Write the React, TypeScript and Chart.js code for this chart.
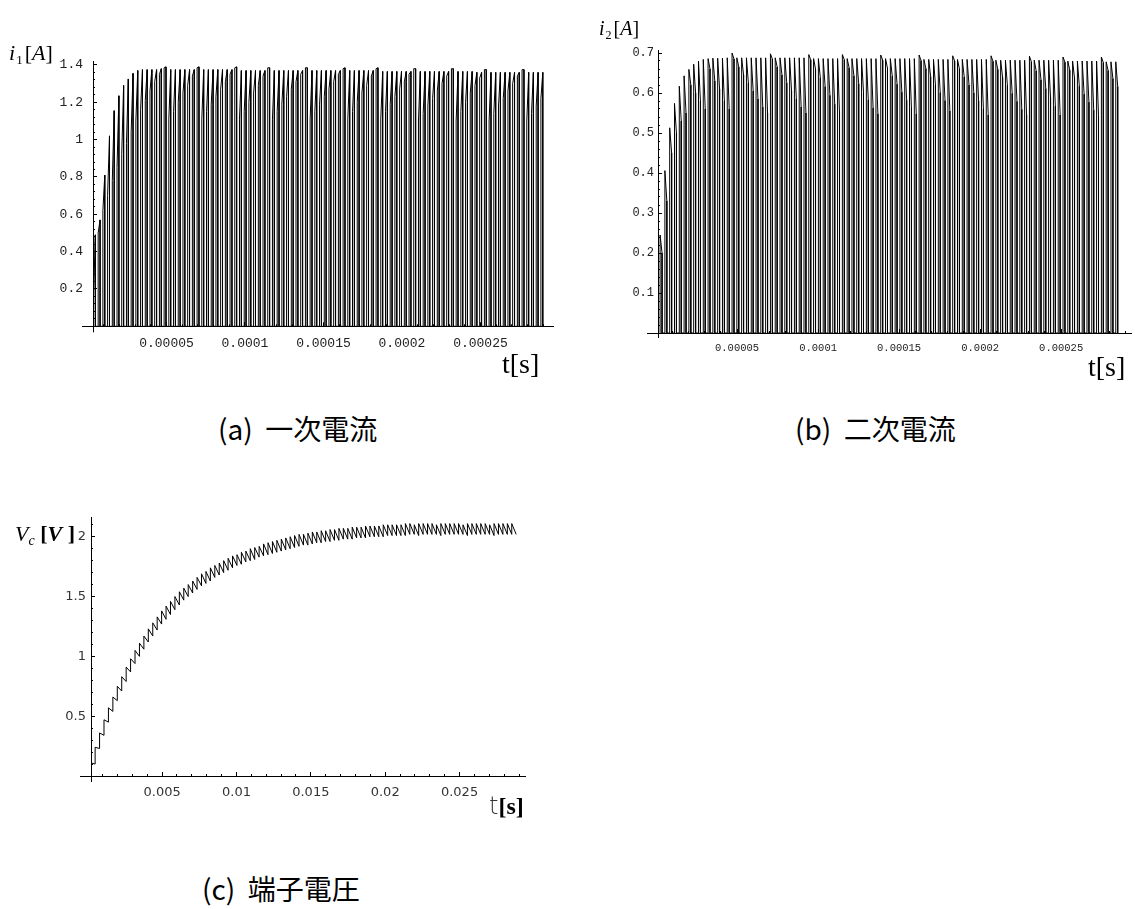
import React, { useEffect, useRef } from "react";
import { Chart, registerables } from "chart.js";

Chart.register(...registerables);

// ---------------- data: (a) primary current i1 ----------------
const I1_PULSE_START = 3.5e-6; // s
const I1_PULSE_PERIOD = 3.0e-6; // s
const I1_PULSE_WIDTH = 1.2e-6; // s
// current at the beginning of each conduction pulse (gray line tops)
const I1_RAMP_START = [
  0.15, 0.5, 0.62, 0.7, 0.78, 0.85, 0.92, 0.98, 1.04, 1.1,
  1.16, 1.21, 1.26, 1.31, 1.35, 1.385, 1.11, 1.15, 1.2, 1.25,
  1.29, 1.34, 1.385, 1.11, 1.15, 1.19, 1.23, 1.27, 1.31, 1.35,
  1.385, 1.11, 1.15, 1.2, 1.25, 1.29, 1.34, 1.385, 1.11, 1.15,
  1.19, 1.23, 1.27, 1.31, 1.35, 1.385, 1.11, 1.15, 1.19, 1.23,
  1.27, 1.31, 1.35, 1.38, 1.11, 1.15, 1.2, 1.25, 1.29, 1.34,
  1.38, 1.11, 1.15, 1.19, 1.23, 1.27, 1.31, 1.35, 1.38, 1.1,
  1.14, 1.18, 1.22, 1.26, 1.3, 1.34, 1.38, 1.1, 1.15, 1.2,
  1.25, 1.29, 1.33, 1.375, 1.1, 1.14, 1.18, 1.22, 1.26, 1.3,
  1.34, 1.375, 1.1, 1.14, 1.18, 1.22,
];
// current at the end of each conduction pulse (black line tops)
const I1_RAMP_END = [
  0.49, 0.57, 0.81, 1.02, 1.155, 1.235, 1.29, 1.325, 1.355, 1.37,
  1.375, 1.375, 1.375, 1.375, 1.38, 1.39, 1.375, 1.375, 1.375, 1.375,
  1.375, 1.375, 1.39, 1.375, 1.375, 1.375, 1.375, 1.375, 1.375, 1.375,
  1.39, 1.37, 1.37, 1.37, 1.37, 1.37, 1.37, 1.385, 1.37, 1.37,
  1.37, 1.37, 1.37, 1.37, 1.37, 1.385, 1.37, 1.37, 1.37, 1.37,
  1.37, 1.37, 1.37, 1.385, 1.37, 1.37, 1.37, 1.37, 1.37, 1.37,
  1.385, 1.365, 1.365, 1.365, 1.365, 1.365, 1.365, 1.365, 1.38, 1.365,
  1.365, 1.365, 1.365, 1.365, 1.365, 1.365, 1.38, 1.365, 1.365, 1.365,
  1.365, 1.36, 1.36, 1.375, 1.36, 1.36, 1.36, 1.36, 1.36, 1.36,
  1.36, 1.375, 1.36, 1.36, 1.36, 1.36,
];

// ---------------- data: (b) secondary current i2 ----------------
const I2_PULSE_START = 2.5e-6;
const I2_PULSE_PERIOD = 2.96e-6;
const I2_PULSE_WIDTH = 1.2e-6;
const I2_RAMP_START = [
  0.245, 0.406, 0.513, 0.574, 0.617, 0.643, 0.659, 0.672, 0.68, 0.684,
  0.686, 0.687, 0.687, 0.687, 0.688, 0.7, 0.688, 0.688, 0.688, 0.688,
  0.688, 0.688, 0.688, 0.698, 0.688, 0.688, 0.688, 0.688, 0.688, 0.688,
  0.688, 0.696, 0.686, 0.686, 0.686, 0.686, 0.686, 0.686, 0.696, 0.686,
  0.686, 0.686, 0.686, 0.686, 0.686, 0.686, 0.695, 0.686, 0.686, 0.686,
  0.686, 0.686, 0.686, 0.686, 0.695, 0.684, 0.684, 0.684, 0.684, 0.684,
  0.684, 0.693, 0.684, 0.684, 0.684, 0.684, 0.684, 0.684, 0.684, 0.693,
  0.682, 0.682, 0.682, 0.682, 0.682, 0.682, 0.682, 0.692, 0.682, 0.682,
  0.682, 0.682, 0.682, 0.682, 0.69, 0.68, 0.68, 0.68, 0.68, 0.68,
  0.68, 0.68, 0.69, 0.678, 0.678, 0.678,
];
const I2_RAMP_END = [
  0.2, 0.33, 0.45, 0.5, 0.53, 0.55, 0.62, 0.6, 0.58, 0.56,
  0.66, 0.63, 0.61, 0.58, 0.56, 0.685, 0.665, 0.645, 0.625, 0.605,
  0.585, 0.565, 0.55, 0.685, 0.665, 0.645, 0.625, 0.605, 0.585, 0.565,
  0.55, 0.683, 0.66, 0.638, 0.616, 0.594, 0.572, 0.55, 0.683, 0.663,
  0.643, 0.623, 0.603, 0.583, 0.563, 0.548, 0.682, 0.662, 0.642, 0.622,
  0.602, 0.582, 0.562, 0.548, 0.681, 0.661, 0.641, 0.621, 0.601, 0.581,
  0.555, 0.68, 0.66, 0.64, 0.62, 0.6, 0.58, 0.56, 0.545, 0.679,
  0.659, 0.639, 0.619, 0.599, 0.579, 0.559, 0.545, 0.678, 0.655, 0.633,
  0.611, 0.589, 0.567, 0.545, 0.677, 0.657, 0.637, 0.617, 0.597, 0.577,
  0.557, 0.543, 0.676, 0.656, 0.636, 0.616,
];

// ---------------- data: (c) terminal voltage Vc ----------------
const VC_STEP_START = 0.0002;
const VC_STEP_PERIOD = 0.000298;
// voltage right after each charging step
const VC_AFTER_STEP = [
  0.11, 0.24, 0.36, 0.47, 0.57, 0.66, 0.75, 0.83, 0.91, 0.98,
  1.05, 1.11, 1.17, 1.23, 1.28, 1.33, 1.38, 1.42, 1.46, 1.5,
  1.54, 1.57, 1.6, 1.63, 1.66, 1.69, 1.71, 1.74, 1.76, 1.78,
  1.8, 1.82, 1.84, 1.85, 1.87, 1.88, 1.9, 1.91, 1.92, 1.94,
  1.95, 1.96, 1.97, 1.98, 1.99, 2.0, 2.01, 2.02, 2.02, 2.03,
  2.04, 2.04, 2.05, 2.05, 2.06, 2.06, 2.07, 2.07, 2.07, 2.08,
  2.08, 2.08, 2.09, 2.09, 2.09, 2.09, 2.1, 2.1, 2.1, 2.1,
  2.1, 2.11, 2.11, 2.1, 2.11, 2.11, 2.11, 2.11, 2.1, 2.11,
  2.11, 2.11, 2.11, 2.11, 2.1, 2.11, 2.11, 2.11, 2.11, 2.11,
  2.1, 2.11, 2.11, 2.11, 2.11, 2.11,
];
// voltage just before the next step
const VC_BEFORE_NEXT = [
  0.1, 0.23, 0.34, 0.45, 0.54, 0.63, 0.71, 0.79, 0.87, 0.94,
  1.0, 1.06, 1.12, 1.17, 1.22, 1.27, 1.31, 1.35, 1.39, 1.43,
  1.47, 1.5, 1.53, 1.56, 1.59, 1.61, 1.63, 1.66, 1.68, 1.7,
  1.72, 1.74, 1.76, 1.77, 1.79, 1.8, 1.81, 1.83, 1.84, 1.85,
  1.86, 1.87, 1.88, 1.89, 1.9, 1.91, 1.92, 1.93, 1.93, 1.94,
  1.95, 1.95, 1.96, 1.96, 1.97, 1.97, 1.98, 1.98, 1.98, 1.99,
  1.99, 1.99, 2.0, 2.0, 2.0, 2.0, 2.01, 2.01, 2.01, 2.01,
  2.01, 2.02, 2.02, 2.01, 2.02, 2.02, 2.02, 2.02, 2.01, 2.02,
  2.02, 2.02, 2.02, 2.02, 2.01, 2.02, 2.02, 2.02, 2.02, 2.02,
  2.01, 2.02, 2.02, 2.02, 2.02, 2.02,
];

// ---------------- tick labels ----------------
const I_X_TICKS = [0.00005, 0.0001, 0.00015, 0.0002, 0.00025];
const I_X_LABELS = ["0.00005", "0.0001", "0.00015", "0.0002", "0.00025"];
const I1_Y_TICKS = [0.2, 0.4, 0.6, 0.8, 1.0, 1.2, 1.4];
const I1_Y_LABELS = ["0.2", "0.4", "0.6", "0.8", "1", "1.2", "1.4"];
const I2_Y_TICKS = [0.1, 0.2, 0.3, 0.4, 0.5, 0.6, 0.7];
const I2_Y_LABELS = ["0.1", "0.2", "0.3", "0.4", "0.5", "0.6", "0.7"];
const VC_X_TICKS = [0.005, 0.01, 0.015, 0.02, 0.025];
const VC_X_LABELS = ["0.005", "0.01", "0.015", "0.02", "0.025"];
const VC_Y_TICKS = [0.5, 1.0, 1.5, 2.0];
const VC_Y_LABELS = ["0.5", "1", "1.5", "2"];

// ---------------- builders ----------------
type Pt = { x: number; y: number };

function pulseTrain(start: number, period: number, width: number, first: number[], second: number[]): Pt[] {
  const pts: Pt[] = [];
  for (let k = 0; k < first.length; k++) {
    const t = start + k * period;
    pts.push({ x: t, y: 0 }, { x: t, y: first[k] }, { x: t + width, y: second[k] }, { x: t + width, y: 0 });
  }
  return pts;
}

function staircase(start: number, period: number, after: number[], before: number[]): Pt[] {
  const pts: Pt[] = [{ x: start, y: 0 }];
  for (let k = 0; k < after.length; k++) {
    const t = start + k * period;
    if (k > 0) pts.push({ x: t, y: before[k - 1] });
    pts.push({ x: t, y: after[k] });
  }
  pts.push({ x: start + after.length * period, y: before[before.length - 1] });
  return pts;
}

function labelFor(v: number, ticks: number[], labels: string[]): string {
  for (let i = 0; i < ticks.length; i++) {
    if (Math.abs(v - ticks[i]) < Math.abs(ticks[i]) * 1e-6) return labels[i];
  }
  return "";
}

// Mathematica-style axes: inward ticks and axis lines running past the origin
const mmaAxes = {
  id: "mmaAxes",
  afterDraw(chart: any, _args: any, opts: any) {
    const { ctx, chartArea: a, scales } = chart;
    const xs = scales.x;
    const ys = scales.y;
    const al = (v: number) => Math.floor(v) + 0.5;
    ctx.save();
    ctx.strokeStyle = "#000";
    ctx.lineWidth = 1;
    ctx.beginPath();
    const yb = al(a.bottom);
    const xl = al(a.left);
    ctx.moveTo(a.left - (opts.extendLeft || 0), yb);
    ctx.lineTo(a.left, yb);
    ctx.moveTo(xl, a.bottom);
    ctx.lineTo(xl, a.bottom + (opts.extendBottom || 0));
    for (const t of ys.ticks) {
      const py = ys.getPixelForValue(t.value);
      if (py < a.top - 0.5 || py > a.bottom - 1) continue;
      const len = t.label ? opts.major : opts.minor;
      ctx.moveTo(a.left, al(py));
      ctx.lineTo(a.left + len, al(py));
    }
    for (const t of xs.ticks) {
      const px = xs.getPixelForValue(t.value);
      if (px < a.left + 1 || px > a.right) continue;
      const len = t.label ? opts.major : opts.minor;
      ctx.moveTo(al(px), a.bottom);
      ctx.lineTo(al(px), a.bottom - len);
    }
    ctx.stroke();
    ctx.restore();
  },
};

type Spec = {
  data: Pt[];
  width: number;
  height: number;
  left: number;
  top: number;
  xMin: number;
  xMax: number;
  yMin: number;
  yMax: number;
  xMinor: number;
  xTicks: number[];
  xLabels: string[];
  yStep: number;
  yTicks: number[];
  yLabels: string[];
  xFont: any;
  yFont: any;
  xPad: number;
  yPad: number;
  yWidth: number;
  xHeight: number;
  padTop: number;
  padRight: number;
  extendLeft: number;
  extendBottom: number;
  labelColor: string;
};

function Panel({ spec }: { spec: Spec }) {
  const ref = useRef<HTMLCanvasElement | null>(null);
  useEffect(() => {
    if (!ref.current) return;
    const s = spec;
    const chart = new Chart(ref.current, {
      type: "line",
      data: {
        datasets: [
          {
            data: s.data,
            borderColor: "#000",
            borderWidth: 1,
            pointRadius: 0,
            tension: 0,
            fill: false,
          },
        ],
      },
      plugins: [mmaAxes],
      options: {
        responsive: false,
        animation: false,
        events: [],
        layout: { padding: { left: 0, right: s.padRight, top: s.padTop, bottom: 0 } },
        plugins: {
          legend: { display: false },
          tooltip: { enabled: false },
          mmaAxes: { extendLeft: s.extendLeft, extendBottom: s.extendBottom, major: 4, minor: 2 },
        } as any,
        scales: {
          x: {
            type: "linear",
            min: s.xMin,
            max: s.xMax,
            grid: { display: false, drawTicks: false },
            border: { display: true, color: "#000", width: 1 },
            ticks: {
              autoSkip: false,
              maxRotation: 0,
              minRotation: 0,
              includeBounds: false,
              padding: s.xPad,
              color: s.labelColor,
              font: s.xFont,
              callback: (v: any) => labelFor(Number(v), s.xTicks, s.xLabels),
            },
            afterBuildTicks: (scale: any) => {
              const out: any[] = [];
              const n0 = Math.ceil(scale.min / s.xMinor);
              const n1 = Math.floor(scale.max / s.xMinor);
              for (let n = n0; n <= n1; n++) {
                if (n === 0) continue;
                out.push({ value: n * s.xMinor });
              }
              scale.ticks = out;
            },
            afterFit: (scale: any) => {
              scale.height = s.xHeight;
            },
          },
          y: {
            type: "linear",
            min: s.yMin,
            max: s.yMax,
            grid: { display: false, drawTicks: false },
            border: { display: true, color: "#000", width: 1 },
            ticks: {
              autoSkip: false,
              includeBounds: false,
              stepSize: s.yStep,
              padding: s.yPad,
              color: s.labelColor,
              font: s.yFont,
              callback: (v: any) => labelFor(Number(v), s.yTicks, s.yLabels),
            },
            afterFit: (scale: any) => {
              scale.width = s.yWidth;
            },
          },
        },
      } as any,
    });
    return () => chart.destroy();
  }, [spec]);
  return (
    <canvas
      ref={ref}
      width={spec.width}
      height={spec.height}
      style={{ position: "absolute", left: spec.left, top: spec.top, width: spec.width, height: spec.height }}
    />
  );
}

const MONO = '"Liberation Mono", "DejaVu Sans Mono", monospace';
const SERIF = '"Liberation Serif", "DejaVu Serif", serif';
const CJK = '"Noto Sans CJK JP", "Noto Sans", sans-serif';

const SPEC_A: Spec = {
  data: pulseTrain(I1_PULSE_START, I1_PULSE_PERIOD, I1_PULSE_WIDTH, I1_RAMP_START, I1_RAMP_END),
  width: 570,
  height: 360,
  left: 0,
  top: 0,
  xMin: 3.2e-6,
  xMax: 2.962e-4,
  yMin: 0,
  yMax: 1.4175,
  xMinor: 0.00001,
  xTicks: I_X_TICKS,
  xLabels: I_X_LABELS,
  yStep: 0.04,
  yTicks: I1_Y_TICKS,
  yLabels: I1_Y_LABELS,
  xFont: { family: MONO, size: 13 },
  yFont: { family: MONO, size: 13 },
  xPad: 9,
  yPad: 10,
  yWidth: 93,
  xHeight: 33.7,
  padTop: 61.7,
  padRight: 17,
  extendLeft: 11,
  extendBottom: 6,
  labelColor: "#222",
};

const SPEC_B: Spec = {
  data: pulseTrain(I2_PULSE_START, I2_PULSE_PERIOD, I2_PULSE_WIDTH, I2_RAMP_START, I2_RAMP_END),
  width: 565,
  height: 360,
  left: 570,
  top: 0,
  xMin: 1.2e-6,
  xMax: 2.934e-4,
  yMin: 0,
  yMax: 0.7075,
  xMinor: 0.00001,
  xTicks: I_X_TICKS,
  xLabels: I_X_LABELS,
  yStep: 0.02,
  yTicks: I2_Y_TICKS,
  yLabels: I2_Y_LABELS,
  xFont: { family: MONO, size: 10.5 },
  yFont: { family: MONO, size: 12 },
  xPad: 9,
  yPad: 4,
  yWidth: 88,
  xHeight: 27,
  padTop: 50,
  padRight: 2,
  extendLeft: 11,
  extendBottom: 5,
  labelColor: "#222",
};

const SPEC_C: Spec = {
  data: staircase(VC_STEP_START, VC_STEP_PERIOD, VC_AFTER_STEP, VC_BEFORE_NEXT),
  width: 560,
  height: 350,
  left: 0,
  top: 470,
  xMin: 0.00022,
  xMax: 0.0294,
  yMin: 0,
  yMax: 2.165,
  xMinor: 0.001,
  xTicks: VC_X_TICKS,
  xLabels: VC_X_LABELS,
  yStep: 0.1,
  yTicks: VC_Y_TICKS,
  yLabels: VC_Y_LABELS,
  xFont: { family: '"DejaVu Sans", sans-serif', size: 13 },
  yFont: { family: '"DejaVu Sans", sans-serif', size: 13 },
  xPad: 9,
  yPad: 5,
  yWidth: 91,
  xHeight: 44,
  padTop: 47,
  padRight: 35,
  extendLeft: 11,
  extendBottom: 6,
  labelColor: "#333",
};

const abs = (left: number, top: number, extra: any = {}) => ({
  position: "absolute" as const,
  left,
  top,
  margin: 0,
  lineHeight: 1,
  whiteSpace: "nowrap" as const,
  color: "#000",
  ...extra,
});

export default function App() {
  return (
    <div style={{ position: "absolute", left: 0, top: 0, width: 1135, height: 909, background: "#fff", overflow: "hidden" }}>
      <Panel spec={SPEC_A} />
      <Panel spec={SPEC_B} />
      <Panel spec={SPEC_C} />

      {/* axis titles */}
      <div style={abs(9, 42, { fontFamily: SERIF, fontSize: 22 })}>
        <i>i</i>
        <span style={{ fontSize: 13, position: "relative", top: 4, marginLeft: 1, marginRight: 2 }}>1</span>[<i>A</i>]
      </div>
      <div style={abs(502, 350, { fontFamily: SERIF, fontSize: 28 })}>t[s]</div>

      <div style={abs(599, 18, { fontFamily: SERIF, fontSize: 20 })}>
        <i>i</i>
        <span style={{ fontSize: 12, position: "relative", top: 4, marginLeft: 1, marginRight: 2 }}>2</span>[<i>A</i>]
      </div>
      <div style={abs(1088, 353, { fontFamily: SERIF, fontSize: 28 })}>t[s]</div>

      <div style={abs(15, 523, { fontFamily: SERIF, fontSize: 22 })}>
        <i>V</i>
        <i style={{ fontSize: 14, position: "relative", top: 4 }}>c</i>
        <span style={{ fontWeight: 700 }}>
          {" "}[<i>V</i> ]
        </span>
      </div>
      <div style={abs(489, 794, { fontSize: 24 })}>
        <span style={{ fontFamily: '"DejaVu Sans", sans-serif', fontWeight: 200, color: "#333" }}>t</span>
        <span style={{ fontFamily: SERIF, fontWeight: 700 }}>[s]</span>
      </div>

      {/* captions */}
      <div style={abs(218, 414, { fontFamily: CJK, fontSize: 28, fontWeight: 400 })}>(a)&nbsp;&nbsp;一次電流</div>
      <div style={abs(795, 414, { fontFamily: CJK, fontSize: 28, fontWeight: 400 })}>(b)&nbsp;&nbsp;二次電流</div>
      <div style={abs(202, 874, { fontFamily: CJK, fontSize: 28, fontWeight: 400 })}>(c)&nbsp;&nbsp;端子電圧</div>
    </div>
  );
}
